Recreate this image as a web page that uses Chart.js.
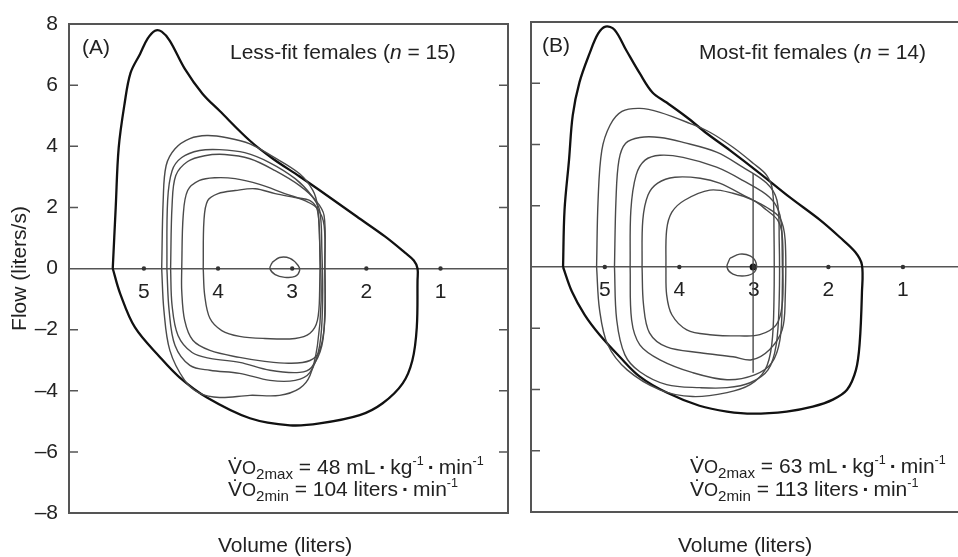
<!DOCTYPE html>
<html>
<head>
<meta charset="utf-8">
<script src="https://cdn.jsdelivr.net/npm/chart.js@4/dist/chart.umd.min.js"></script>
<style>
  html, body { margin: 0; padding: 0; background: #fff; }
  #wrap { position: relative; width: 958px; height: 557px; overflow: hidden; background: #fff;
          font-family: "Liberation Sans", Arial, Helvetica, sans-serif; color: #222; }
  canvas { position: absolute; top: 0; }
  #chartA { left: 0; }
  #chartB { left: 520px; }
  .lbl { position: absolute; font-size: 21px; line-height: 24px; white-space: nowrap; }
  .lbl sub { font-size: 0.72em; vertical-align: -0.3em; line-height: 0; }
  .lbl sup { font-size: 0.6em; vertical-align: 0.75em; line-height: 0; }
  .o { font-size: 0.86em; }
  .dot { font-weight: bold; padding: 0 4px; }
</style>
</head>
<body>
<div id="wrap">
  <canvas id="chartA" width="520" height="557"></canvas>
  <canvas id="chartB" width="470" height="557"></canvas>

  <div class="lbl" style="left:82px; top:35px;">(A)</div>
  <div class="lbl" style="left:230px; top:40px;">Less-fit females (<i>n</i> = 15)</div>
  <div class="lbl" style="left:542px; top:33px;">(B)</div>
  <div class="lbl" style="left:699px; top:40px;">Most-fit females (<i>n</i> = 14)</div>

  <div class="lbl" style="left:228px; top:455px;">V&#775;<span class="o">O</span><sub>2max</sub> = 48 mL<span class="dot">&#183;</span>kg<sup>-1</sup><span class="dot">&#183;</span>min<sup>-1</sup></div>
  <div class="lbl" style="left:228px; top:477px;">V&#775;<span class="o">O</span><sub>2min</sub> = 104 liters<span class="dot">&#183;</span>min<sup>-1</sup></div>
  <div class="lbl" style="left:690px; top:454px;">V&#775;<span class="o">O</span><sub>2max</sub> = 63 mL<span class="dot">&#183;</span>kg<sup>-1</sup><span class="dot">&#183;</span>min<sup>-1</sup></div>
  <div class="lbl" style="left:690px; top:477px;">V&#775;<span class="o">O</span><sub>2min</sub> = 113 liters<span class="dot">&#183;</span>min<sup>-1</sup></div>

  <div class="lbl" style="left:218px; top:533px;">Volume (liters)</div>
  <div class="lbl" style="left:678px; top:533px;">Volume (liters)</div>
</div>

<script>
// axis ticks
var xTicks = [1, 2, 3, 4, 5];
var yTicks = [-8, -6, -4, -2, 0, 2, 4, 6, 8];

// visible volume range of each panel (axis is reversed)
var xRangeA = [0.09, 6.01];
var xRangeB = [0.10, 5.99];

// ---- panel A: less-fit females  [volume (L), flow (L/s)]
var aMaxLoop = [[5.42,0],[5.38,2.0],[5.34,3.95],[5.26,5.4],[5.18,6.4],[5.05,7.03],[4.95,7.52],[4.85,7.78],[4.76,7.75],[4.65,7.45],[4.45,6.54],[4.21,5.72],[3.98,5.16],[3.57,4.18],[3.26,3.59],[2.90,3.01],[2.53,2.39],[2.13,1.70],[1.75,1.05],[1.48,0.52],[1.36,0.26],[1.31,0],[1.31,-0.39],[1.32,-1.93],[1.38,-3.01],[1.51,-3.76],[1.78,-4.41],[2.09,-4.80],[2.63,-5.07],[3.03,-5.13],[3.57,-4.90],[4.15,-4.22],[4.52,-3.56],[4.78,-2.91],[5.12,-1.93],[5.32,-0.82],[5.42,0]];
var aLoop1 = [[4.76,0],[4.74,2.22],[4.70,3.37],[4.58,3.92],[4.38,4.25],[4.15,4.35],[3.88,4.28],[3.57,4.08],[3.26,3.66],[2.90,3.10],[2.72,2.55],[2.66,2.06],[2.63,0.92],[2.61,-1.05],[2.66,-2.52],[2.76,-3.50],[2.90,-3.92],[3.17,-4.15],[3.57,-4.15],[3.98,-4.22],[4.25,-4.08],[4.45,-3.66],[4.65,-2.68],[4.73,-1.37],[4.76,0]];
var aLoop2 = [[4.69,0],[4.68,2.22],[4.62,3.20],[4.49,3.63],[4.25,3.86],[3.98,3.89],[3.64,3.79],[3.30,3.46],[2.96,2.94],[2.74,2.39],[2.63,1.90],[2.60,0.59],[2.59,-1.05],[2.63,-2.52],[2.76,-3.40],[2.96,-3.66],[3.30,-3.66],[3.71,-3.43],[4.11,-3.33],[4.38,-3.17],[4.58,-2.52],[4.66,-1.37],[4.69,0]];
var aLoop3 = [[4.64,0],[4.62,2.06],[4.57,3.04],[4.41,3.50],[4.18,3.69],[3.91,3.73],[3.57,3.59],[3.23,3.20],[2.90,2.71],[2.68,2.22],[2.57,1.73],[2.56,0.26],[2.56,-1.37],[2.60,-2.52],[2.74,-3.24],[2.90,-3.40],[3.30,-3.33],[3.71,-3.07],[4.11,-2.94],[4.35,-2.75],[4.54,-2.19],[4.62,-1.21],[4.64,0]];
var aLoop4 = [[4.49,0],[4.47,1.73],[4.41,2.55],[4.25,2.88],[4.04,2.97],[3.77,2.94],[3.44,2.75],[3.10,2.45],[2.83,2.22],[2.66,1.96],[2.57,1.41],[2.56,-0.07],[2.56,-1.70],[2.63,-2.68],[2.76,-3.01],[3.03,-3.10],[3.37,-3.04],[3.71,-2.91],[4.11,-2.68],[4.34,-2.35],[4.45,-1.70],[4.49,-0.72],[4.49,0]];
var aLoop5 = [[4.20,0],[4.19,1.57],[4.14,2.22],[4.00,2.45],[3.77,2.55],[3.50,2.61],[3.23,2.45],[2.96,2.32],[2.76,2.22],[2.66,1.90],[2.63,0.92],[2.63,-0.72],[2.66,-1.70],[2.76,-2.12],[2.96,-2.29],[3.37,-2.29],[3.71,-2.22],[3.95,-2.03],[4.11,-1.63],[4.18,-0.88],[4.20,0]];
var aRest = [[3.27,0.20],[3.17,0.36],[3.03,0.33],[2.92,0.10],[2.90,-0.07],[2.96,-0.26],[3.10,-0.29],[3.23,-0.20],[3.30,0],[3.27,0.20]];

// ---- panel B: most-fit females
var bMaxLoop = [[5.56,0],[5.54,1.86],[5.48,3.49],[5.43,4.95],[5.34,6.03],[5.20,7.00],[5.09,7.62],[4.99,7.85],[4.87,7.75],[4.71,7.07],[4.53,6.32],[4.36,5.70],[4.17,5.37],[3.90,4.89],[3.63,4.36],[3.32,3.81],[2.92,3.06],[2.52,2.28],[2.11,1.53],[1.85,0.98],[1.64,0.49],[1.55,0.07],[1.55,-0.85],[1.58,-2.48],[1.63,-3.36],[1.75,-4.01],[1.94,-4.33],[2.21,-4.56],[2.56,-4.72],[3.01,-4.79],[3.36,-4.72],[3.73,-4.53],[4.17,-4.10],[4.53,-3.58],[4.80,-2.93],[5.07,-2.21],[5.27,-1.56],[5.44,-0.81],[5.56,0]];
var bLoop1 = [[5.11,0],[5.09,2.18],[5.04,3.81],[4.93,4.63],[4.77,5.08],[4.53,5.18],[4.26,5.05],[3.86,4.69],[3.59,4.40],[3.28,3.91],[3.01,3.39],[2.83,3.00],[2.75,2.51],[2.73,1.21],[2.73,-1.07],[2.76,-2.54],[2.85,-3.36],[3.05,-3.84],[3.36,-4.10],[3.82,-4.23],[4.26,-4.01],[4.70,-3.36],[4.96,-2.54],[5.07,-1.40],[5.11,0]];
var bLoop2 = [[4.87,0],[4.85,2.18],[4.81,3.49],[4.72,4.04],[4.53,4.23],[4.26,4.23],[3.95,4.07],[3.50,3.75],[3.15,3.26],[2.83,2.74],[2.69,2.18],[2.66,0.88],[2.66,-1.07],[2.70,-2.54],[2.81,-3.36],[3.05,-3.78],[3.36,-3.94],[3.72,-3.94],[4.17,-3.84],[4.53,-3.42],[4.73,-2.87],[4.84,-1.73],[4.87,0]];
var bLoop3 = [[4.66,0],[4.65,1.86],[4.58,3.00],[4.46,3.49],[4.26,3.65],[3.95,3.58],[3.50,3.26],[3.15,2.83],[2.79,2.28],[2.65,1.69],[2.62,0.55],[2.62,-1.07],[2.65,-2.38],[2.76,-3.13],[2.99,-3.52],[3.36,-3.68],[3.82,-3.45],[4.26,-3.03],[4.53,-2.54],[4.64,-1.73],[4.66,0]];
var bLoop4 = [[4.50,0],[4.49,1.53],[4.42,2.35],[4.29,2.74],[4.06,2.93],[3.72,2.90],[3.46,2.74],[3.09,2.28],[2.83,1.95],[2.65,1.60],[2.58,0.88],[2.58,-1.07],[2.62,-2.05],[2.79,-2.70],[3.03,-3.03],[3.28,-2.93],[3.72,-2.80],[4.17,-2.61],[4.40,-2.15],[4.48,-1.24],[4.50,0]];
var bLoop5 = [[4.18,0],[4.17,1.21],[4.10,1.79],[3.93,2.18],[3.59,2.51],[3.28,2.41],[3.01,2.18],[2.83,1.86],[2.68,1.53],[2.62,1.04],[2.61,-0.10],[2.62,-1.24],[2.70,-1.89],[2.92,-2.21],[3.19,-2.25],[3.59,-2.21],[3.90,-2.05],[4.10,-1.56],[4.17,-0.91],[4.18,0]];
var bRest = [[3.32,0.29],[3.19,0.42],[3.05,0.36],[2.97,0.13],[2.99,-0.16],[3.12,-0.29],[3.28,-0.23],[3.36,0],[3.32,0.29]];
var bMarkerLine = [[3.01,3.06],[3.01,-3.45]];
var bMarkerDot = [[3.01,0]];

var FONT = '"Liberation Sans", Arial, Helvetica, sans-serif';
var INK = "#222";

function pts(arr) {
    return arr.map(function (p) { return { x: p[0], y: p[1] }; });
}

function curve(arr, color, width) {
    return {
        data: pts(arr),
        showLine: true,
        borderColor: color,
        borderWidth: width,
        pointRadius: 0,
        tension: 0.35,
        fill: false,
    };
}

// frame, inward ticks on the borders, dots on the zero line
var framePlugin = {
    id: "frame",
    afterDraw: function (chart, args, opts) {
        var ctx = chart.ctx, a = chart.chartArea;
        var x = chart.scales.x, y = chart.scales.y;
        ctx.save();
        ctx.strokeStyle = "#555";
        ctx.lineWidth = 2;
        ctx.strokeRect(a.left, a.top, a.right - a.left, a.bottom - a.top);
        ctx.lineWidth = 1.5;
        ctx.beginPath();
        yTicks.forEach(function (v) {
            if (v === 0 || v === 8 || v === -8) return;
            var py = y.getPixelForValue(v);
            ctx.moveTo(a.left, py);
            ctx.lineTo(a.left + 9, py);
            if (opts.rightTicks) {
                ctx.moveTo(a.right, py);
                ctx.lineTo(a.right - 9, py);
            }
        });
        ctx.stroke();
        ctx.fillStyle = "#333";
        var y0 = y.getPixelForValue(0);
        xTicks.forEach(function (v) {
            ctx.beginPath();
            ctx.arc(x.getPixelForValue(v), y0, 2.2, 0, Math.PI * 2);
            ctx.fill();
        });
        ctx.restore();
    },
};

function makeChart(id, datasets, xRange, withLabels, pad) {
    var ctx = document.getElementById(id).getContext("2d");
    return new Chart(ctx, {
        type: "scatter",
        data: { datasets: datasets },
        plugins: [framePlugin],
        options: {
            responsive: false,
            animation: false,
            devicePixelRatio: 1,
            layout: { padding: pad },
            plugins: {
                legend: { display: false },
                tooltip: { enabled: false },
                frame: { rightTicks: withLabels },
            },
            scales: {
                x: {
                    type: "linear",
                    position: { y: 0 },
                    reverse: true,
                    min: xRange[0],
                    max: xRange[1],
                    afterBuildTicks: function (s) { s.ticks = xTicks.map(function (v) { return { value: v }; }); },
                    grid: { display: false, drawTicks: false },
                    border: { display: true, color: "#555", width: 1.5 },
                    ticks: { color: INK, font: { family: FONT, size: 21 }, padding: 11 },
                },
                y: {
                    type: "linear",
                    display: withLabels,
                    min: -8,
                    max: 8,
                    afterBuildTicks: function (s) { s.ticks = yTicks.map(function (v) { return { value: v }; }); },
                    afterFit: function (s) { if (withLabels) s.width = 69; },
                    grid: { display: false, drawTicks: false },
                    border: { display: false },
                    ticks: {
                        color: INK,
                        font: { family: FONT, size: 21 },
                        padding: 11,
                        callback: function (v) { return v < 0 ? "\u2013" + Math.abs(v) : String(v); },
                    },
                    title: {
                        display: true,
                        text: "Flow (liters/s)",
                        color: INK,
                        font: { family: FONT, size: 21 },
                        padding: { top: 8, bottom: 0 },
                    },
                },
            },
        },
    });
}

document.addEventListener("DOMContentLoaded", function () {
    var thin = "#4a4a4a";
    makeChart("chartA", [
        curve(aLoop1, thin, 1.4),
        curve(aLoop2, thin, 1.4),
        curve(aLoop3, thin, 1.4),
        curve(aLoop4, thin, 1.4),
        curve(aLoop5, thin, 1.4),
        curve(aRest, thin, 1.4),
        curve(aMaxLoop, "#111", 2.3),
    ], xRangeA, true, { left: 0, top: 24, right: 12, bottom: 44 });

    makeChart("chartB", [
        curve(bLoop1, thin, 1.4),
        curve(bLoop2, thin, 1.4),
        curve(bLoop3, thin, 1.4),
        curve(bLoop4, thin, 1.4),
        curve(bLoop5, thin, 1.4),
        curve(bRest, thin, 1.4),
        { data: pts(bMarkerLine), showLine: true, borderColor: thin, borderWidth: 1.4, pointRadius: 0 },
        { data: pts(bMarkerDot), showLine: false, pointRadius: 3.5, pointBackgroundColor: "#111", pointBorderWidth: 0 },
        curve(bMaxLoop, "#111", 2.3),
    ], xRangeB, false, { left: 11, top: 22, right: 20, bottom: 45 });
});
</script>
</body>
</html>
